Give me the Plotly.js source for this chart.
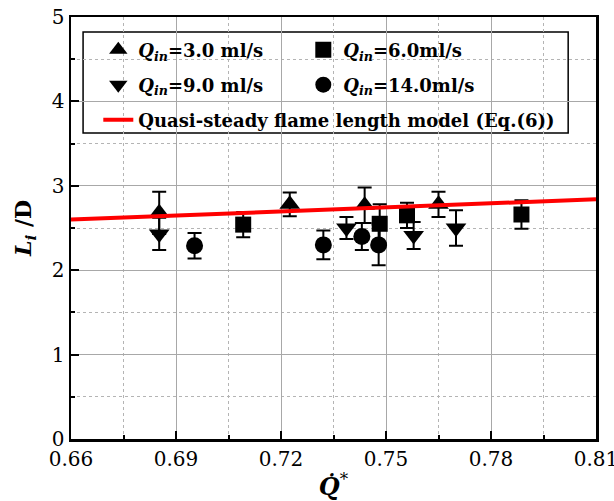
<!DOCTYPE html>
<html>
<head>
<meta charset="utf-8">
<script src="https://cdn.plot.ly/plotly-3.0.1.min.js"></script>
<style>html,body{margin:0;padding:0;background:#fff;}#chart{width:614px;height:501px;}</style>
</head>
<body>
<div id="chart"></div>
<script>
// Q_in = 3.0 ml/s (triangle-up)
const q3_x = [0.6852, 0.7225, 0.7439, 0.7650];
const q3_y = [2.68, 2.78, 2.77, 2.78];
const q3_err = [0.25, 0.14, 0.21, 0.15];
// Q_in = 6.0 ml/s (square)
const q6_x = [0.7092, 0.7482, 0.7560, 0.7887];
const q6_y = [2.54, 2.55, 2.65, 2.66];
const q6_err = [0.15, 0.23, 0.15, 0.17];
// Q_in = 9.0 ml/s (triangle-down)
const q9_x = [0.6852, 0.7387, 0.7579, 0.7700];
const q9_y = [2.43, 2.50, 2.41, 2.50];
const q9_err = [0.19, 0.13, 0.16, 0.21];
// Q_in = 14.0 ml/s (circle)
const q14_x = [0.6953, 0.7321, 0.7431, 0.7479];
const q14_y = [2.29, 2.30, 2.40, 2.30];
const q14_err = [0.15, 0.17, 0.16, 0.24];
// Quasi-steady flame length model (Eq.(6))
const model_x = [0.66, 0.81];
const model_y = [2.60, 2.84];

const names = [
  '<b><i>Q</i><sub><i>in</i></sub>=3.0 ml/s</b>',
  '<b><i>Q</i><sub><i>in</i></sub>=6.0ml/s</b>',
  '<b><i>Q</i><sub><i>in</i></sub>=9.0 ml/s</b>',
  '<b><i>Q</i><sub><i>in</i></sub>=14.0ml/s</b>',
  '<b>Quasi-steady flame length model (Eq.(6))</b>'
];

function pts(x, y, err, sym, size, name, leg) {
  return {
    x: x, y: y, type: 'scatter', mode: 'markers', name: name, legend: leg,
    marker: {symbol: sym, size: size, color: '#000'},
    error_y: {type: 'data', array: err, visible: true, color: '#000', thickness: 2, width: 7}
  };
}

const traces = [
  pts(q3_x, q3_y, q3_err, 'triangle-up', 18, names[0], 'legend'),
  pts(q6_x, q6_y, q6_err, 'square', 16, names[1], 'legend'),
  pts(q9_x, q9_y, q9_err, 'triangle-down', 18, names[2], 'legend2'),
  pts(q14_x, q14_y, q14_err, 'circle', 17, names[3], 'legend2'),
  {x: model_x, y: model_y, type: 'scatter', mode: 'lines', name: names[4], legend: 'legend3',
   line: {color: '#ff0000', width: 4}}
];

const F = 'DejaVu Serif, Liberation Serif, serif';
const LF = {family: F, size: 18, color: '#000'};
function leg(y, ew) {
  return {orientation: 'h', x: 0.052, y: y, xanchor: 'left', yanchor: 'middle',
          entrywidth: ew, bgcolor: 'rgba(0,0,0,0)', borderwidth: 0, font: LF, traceorder: 'normal'};
}
const layout = {
  width: 614, height: 501,
  margin: {l: 71, r: 18, t: 17, b: 62},
  paper_bgcolor: '#fff', plot_bgcolor: '#fff',
  font: {family: F, size: 20, color: '#000'},
  showlegend: true,
  legend: leg(0.9218, 160),
  legend2: leg(0.8389, 160),
  legend3: leg(0.7559, 0),
  xaxis: {
    range: [0.66, 0.81], dtick: 0.03, tick0: 0.66, tickformat: '.2f',
    ticks: 'inside', ticklen: 8, tickwidth: 2, tickcolor: '#000',
    showline: true, linecolor: '#000', linewidth: 2.5, mirror: true,
    showgrid: true, gridcolor: '#a8a8a8', gridwidth: 1, zeroline: false,
    ticklabeloverflow: 'allow',
    tickfont: {family: F, size: 20, color: '#000'},
    minor: {dtick: 0.015, tick0: 0.66, ticks: 'inside', ticklen: 4, tickwidth: 2, tickcolor: '#000',
            showgrid: true, gridcolor: '#b4b4b4', griddash: 'dot', gridwidth: 1},
    title: {text: '<b><i>Q\u0307</i></b><sup>*</sup>', font: {family: F, size: 24, color: '#000'}, standoff: 12}
  },
  yaxis: {
    range: [0, 5], dtick: 1, tick0: 0,
    ticks: 'inside', ticklen: 8, tickwidth: 2, tickcolor: '#000',
    showline: true, linecolor: '#000', linewidth: 2.5, mirror: true,
    showgrid: true, gridcolor: '#a8a8a8', gridwidth: 1, zeroline: false,
    tickfont: {family: F, size: 20, color: '#000'},
    minor: {dtick: 0.5, tick0: 0, ticks: 'inside', ticklen: 4, tickwidth: 2, tickcolor: '#000',
            showgrid: true, gridcolor: '#b4b4b4', griddash: 'dot', gridwidth: 1},
    title: {text: '<b><i>L<sub>i</sub></i> /D</b>', font: {family: F, size: 22, color: '#000'}, standoff: 14}
  },
  shapes: [{
    type: 'rect', xref: 'paper', yref: 'paper', layer: 'between',
    x0: 0.023, x1: 0.947, y0: 0.725, y1: 0.9645,
    fillcolor: '#fff', line: {color: '#000', width: 1.5}
  }]
};

Plotly.newPlot('chart', traces, layout, {displayModeBar: false, staticPlot: true});
</script>
</body>
</html>
